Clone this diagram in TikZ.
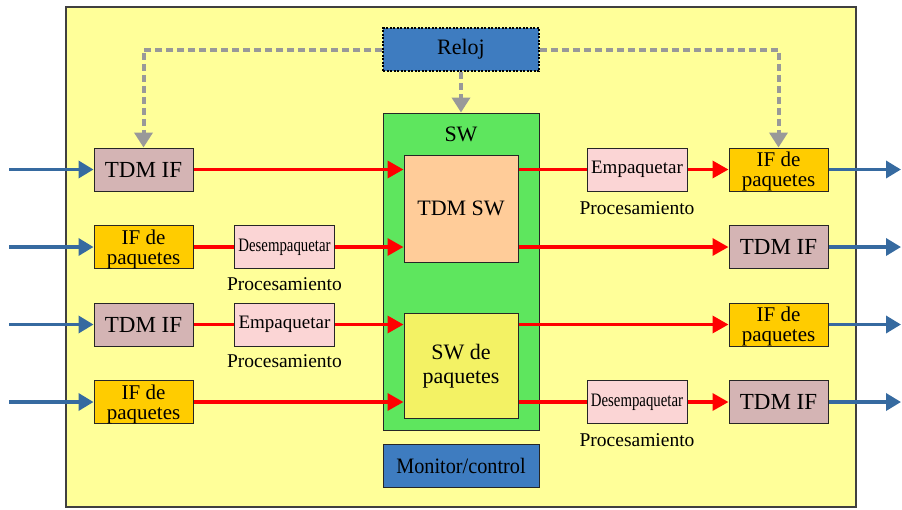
\documentclass[tikz,border=0pt]{standalone}
\usepackage{fontspec}
\usepackage{graphicx}
\setmainfont{Liberation Serif}
\newfontfamily\timesface{Liberation Serif}
\usetikzlibrary{arrows.meta}

\definecolor{bgyellow}{RGB}{255,255,153}
\definecolor{framegray}{RGB}{64,64,64}
\definecolor{clockblue}{RGB}{62,124,192}
\definecolor{swgreen}{RGB}{94,230,94}
\definecolor{peach}{RGB}{255,204,153}
\definecolor{paqyellow}{RGB}{243,242,100}
\definecolor{tdmmauve}{RGB}{212,180,180}
\definecolor{ifgold}{RGB}{255,204,0}
\definecolor{procpink}{RGB}{251,213,213}
\definecolor{linkblue}{RGB}{54,106,160}
\definecolor{clockgray}{RGB}{153,153,153}

% two-line label for the packet interfaces
\newcommand\twol[2]{\parbox[c][43pt][t]{99pt}{\centering\timesface\fontsize{21}{20}\selectfont\vspace*{4pt}#1\\#2}}
\newcommand\squeezed[2][0.78]{\scalebox{#1}[1]{#2}}

\begin{document}
\begin{tikzpicture}[x=1pt,y=-1pt,
  box/.style={draw=black!85, line width=1pt, inner sep=0pt,
              minimum width=99pt, minimum height=43pt},
  tdmif/.style={box, fill=tdmmauve, font=\timesface\fontsize{23}{23}\selectfont},
  ifpaq/.style={box, fill=ifgold},
  proc/.style={box, fill=procpink, minimum width=100pt,
               font=\timesface\fontsize{19}{19}\selectfont},
  lab/.style={font=\timesface\fontsize{19.5}{19.5}\selectfont, inner sep=0pt},
  bigtext/.style={font=\timesface\fontsize{22}{24}\selectfont},
  flow/.style={red, line width=3.5pt},
  flowtip/.style={flow, -{Triangle[length=16pt,width=17pt]}},
  io/.style={linkblue, line width=3.5pt, -{Triangle[length=15pt,width=17pt]}},
  sync/.style={clockgray, line width=4pt, dash pattern=on 7pt off 4pt,
               -{Triangle[length=15pt,width=18pt]}},
]
\useasboundingbox (0,0) rectangle (902,509);

% chassis
\node[draw=framegray, line width=2pt, fill=bgyellow, inner sep=0pt,
      minimum width=790pt, minimum height=500pt] (chassis) at (461,257) {};

% clock, switch fabric and control
\node[fill=clockblue, draw=black, line width=1.5pt, dash pattern=on 2pt off 1.5pt,
      minimum width=156pt, minimum height=43pt, inner sep=0pt, bigtext] (clock) at (461,49.5) {Reloj};
\node[fill=swgreen, draw=black!85, line width=1pt, inner sep=0pt,
      minimum width=156pt, minimum height=317pt] (sw) at (461,271.5) {};
\node[bigtext, inner sep=0pt] (swlabel) at (461,134.5) {SW};
\node[fill=peach, draw=black!85, line width=1pt, inner sep=0pt,
      minimum width=114pt, minimum height=107pt, bigtext] (tdmsw) at (461,208.5) {TDM SW};
\node[fill=paqyellow, draw=black!85, line width=1pt, inner sep=0pt, align=center,
      minimum width=114pt, minimum height=105pt, bigtext] (swpaq) at (461,366) {SW de\\paquetes};
\node[fill=clockblue, draw=black!85, line width=1pt, inner sep=0pt,
      minimum width=156pt, minimum height=43pt, bigtext] (mon) at (461,465.5) {\squeezed[0.92]{Monitor/control}};

% ingress interfaces
\node[tdmif] (in1) at (143.5,169.5) {TDM IF};
\node[ifpaq] (in2) at (143.5,247) {\twol{IF de}{paquetes}};
\node[tdmif] (in3) at (143.5,324.5) {TDM IF};
\node[ifpaq] (in4) at (143.5,402) {\twol{IF de}{paquetes}};

% processing stages
\node[proc] (unpackA) at (284.5,247) {\squeezed{Desempaquetar}};
\node[proc] (packA) at (284.5,324.5) {Empaquetar};
\node[proc] (packB) at (637,169.5) {Empaquetar};
\node[proc] (unpackB) at (637,402) {\squeezed{Desempaquetar}};
\node[lab] (procA) at ([yshift=-15pt]unpackA.south) {Procesamiento};
\node[lab] (procB) at ([yshift=-15pt]packA.south) {Procesamiento};
\node[lab] (procC) at ([yshift=-17pt]packB.south) {Procesamiento};
\node[lab] (procD) at ([yshift=-16.5pt]unpackB.south) {Procesamiento};

% egress interfaces
\node[ifpaq] (out1) at (778.5,169.5) {\twol{IF de}{paquetes}};
\node[tdmif] (out2) at (778.5,247) {TDM IF};
\node[ifpaq] (out3) at (778.5,324.5) {\twol{IF de}{paquetes}};
\node[tdmif] (out4) at (778.5,402) {TDM IF};

% line ends outside the chassis
\coordinate (src1) at (9,169.5);
\coordinate (src2) at (9,247);
\coordinate (src3) at (9,324.5);
\coordinate (src4) at (9,402);
\coordinate (dst1) at (901,169.5);
\coordinate (dst2) at (901,247);
\coordinate (dst3) at (901,324.5);
\coordinate (dst4) at (901,402);

% clock distribution
\draw[sync] (clock.west) -| (in1.north);
\draw[sync] (clock.east) -| (out1.north);
\draw[sync] (clock.south) -- (sw.north);

% external links
\draw[io] (src1) -- (in1.west);
\draw[io] (src2) -- (in2.west);
\draw[io] (src3) -- (in3.west);
\draw[io] (src4) -- (in4.west);
\draw[io] (out1.east) -- (dst1);
\draw[io] (out2.east) -- (dst2);
\draw[io] (out3.east) -- (dst3);
\draw[io] (out4.east) -- (dst4);

% traffic into the switches
\draw[flowtip] (in1.east) -- (in1.east -| tdmsw.west);
\draw[flow] (in2.east) -- (unpackA.west);
\draw[flowtip] (unpackA.east) -- (unpackA.east -| tdmsw.west);
\draw[flow] (in3.east) -- (packA.west);
\draw[flowtip] (packA.east) -- (packA.east -| swpaq.west);
\draw[flowtip] (in4.east) -- (in4.east -| swpaq.west);

% traffic out of the switches
\draw[flow] (packB.west -| tdmsw.east) -- (packB.west);
\draw[flowtip] (packB.east) -- (out1.west);
\draw[flowtip] (out2.west -| tdmsw.east) -- (out2.west);
\draw[flowtip] (out3.west -| swpaq.east) -- (out3.west);
\draw[flow] (unpackB.west -| swpaq.east) -- (unpackB.west);
\draw[flowtip] (unpackB.east) -- (out4.west);
\end{tikzpicture}
\end{document}
